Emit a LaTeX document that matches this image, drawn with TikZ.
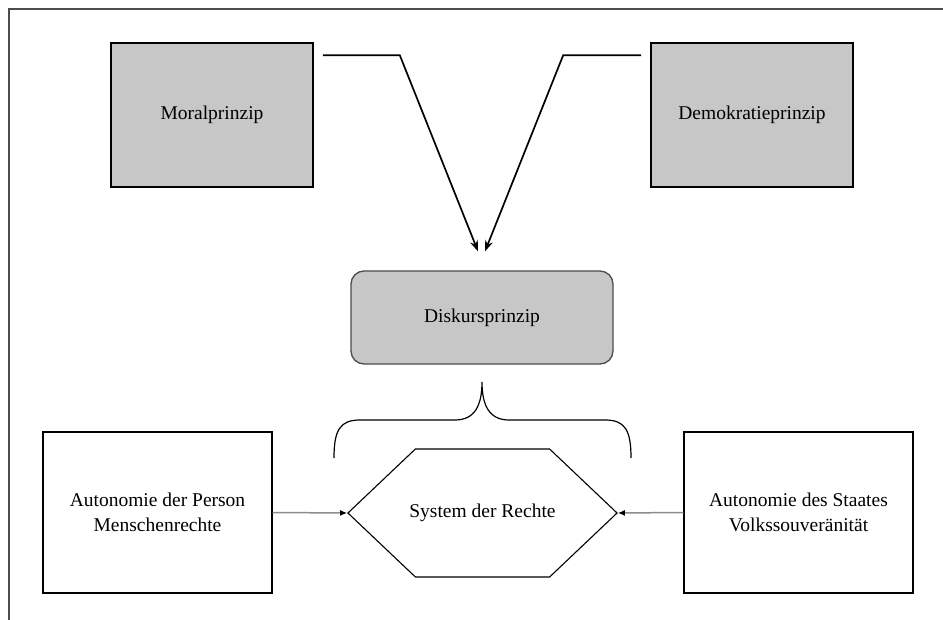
\documentclass[tikz,border=0pt]{standalone}
\usepackage{fontspec}
\setmainfont{Liberation Serif}
\usetikzlibrary{positioning, arrows.meta, shapes.symbols}
\tikzset{
principle/.style={draw, line width=1.6pt, fill=black!22, minimum width=202pt, minimum height=144pt},
autonomy/.style={draw, line width=1.4pt, minimum width=229pt, minimum height=161pt, align=center},
discourse/.style={draw=black!70, line width=1.3pt, fill=black!22, rounded corners=13pt, minimum width=262pt, minimum height=93pt},
rights/.style={draw, line width=1.1pt, signal, signal to=west and east, signal pointer angle=87, inner xsep=-6pt, minimum height=128pt},
feed/.style={line width=1.7pt, -{Stealth[length=11pt,width=8pt]}},
side/.style={draw=black!45, line width=1.5pt, -{Latex[length=7pt,width=6pt,fill=black,color=black]}},
frame/.style={draw=black!70, line width=1.6pt},
}

\begin{document}
\begin{tikzpicture}[x=1pt, y=-1pt, font=\fontsize{19.5}{25}\selectfont]
            \useasboundingbox (0,0) rectangle (943,620);
            \draw[frame] (943,9) -- (9,9) -- (9,620);
            \node[principle] (mor) at (212,115) {Moralprinzip};
            \node[principle] (dem) at (752,115) {Demokratieprinzip};
            \node[discourse] (disk) at (482,317.5) {Diskursprinzip};
            \node[autonomy] (pers) at (157.5,512.5) {Autonomie der Person\\Menschenrechte};
            \node[autonomy] (staat) at (798.5,512.5) {Autonomie des Staates\\Volkssouveränität};
            \node[rights] (sys) at (482.5,513) {System der Rechte};
            \draw[feed] ([shift={(9,13)}]mor.north east) -- ++(77,0) -- ([shift={(-4,-19)}]disk.north);
            \draw[feed] ([shift={(-9,13)}]dem.north west) -- ++(-78,0) -- ([shift={(3,-19)}]disk.north);
            \draw[line width=1.2pt] (334,458) .. controls (334,430) and (340,420) .. (360,420) -- (455,420)
                .. controls (475,420) and (482,405) .. (482,382)
                .. controls (482,405) and (489,420) .. (509,420) -- (605,420)
                .. controls (625,420) and (631,430) .. (631,458);
            \draw[side] (pers.east) -- (sys.west);
            \draw[side] (staat.west) -- (sys.east);
        \end{tikzpicture}
\end{document}
